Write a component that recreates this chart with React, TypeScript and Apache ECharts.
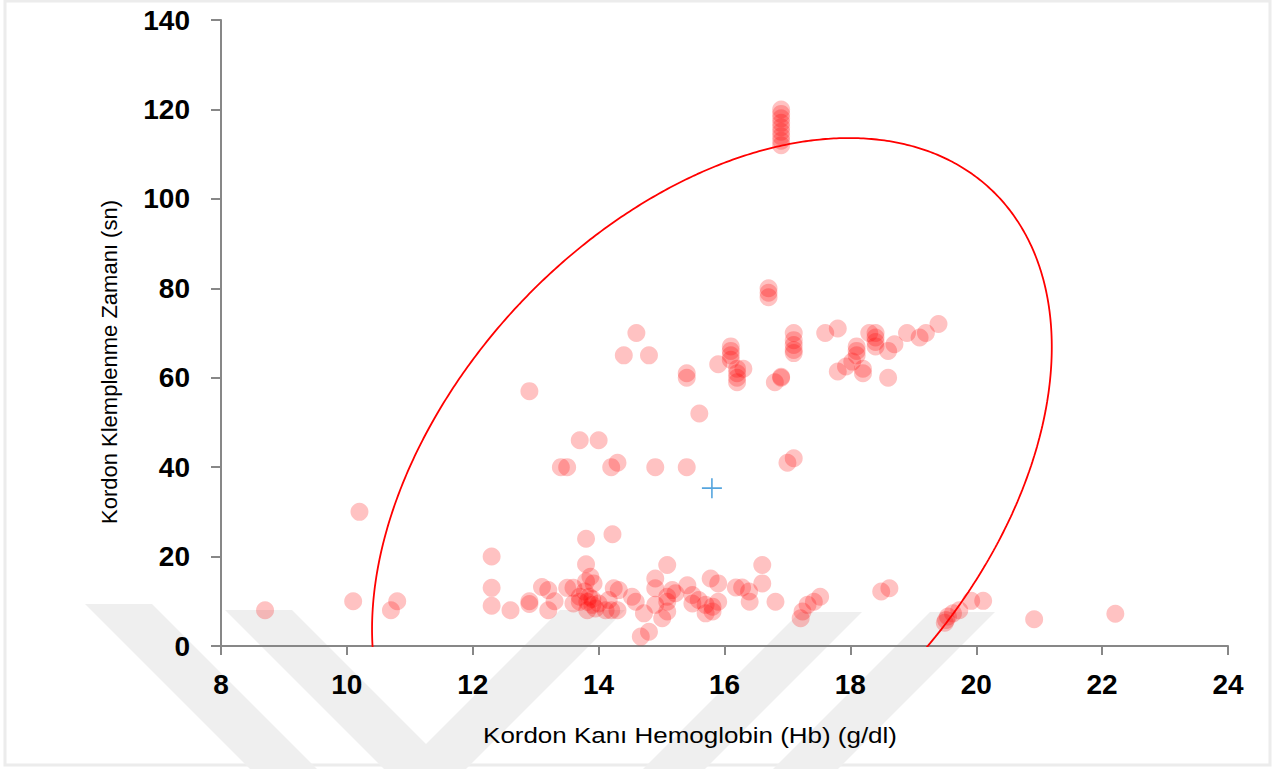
import React, { useEffect, useRef } from "react";
import * as echarts from "echarts";

// Kordon Kanı Hemoglobin (g/dl) values
const hemoglobin: number[] = [
  8.7, 10.1, 10.2, 10.7, 10.8, 12.3, 12.3, 12.3, 12.6, 12.9,
  12.9, 12.9, 13.1, 13.2, 13.2, 13.3, 13.4, 13.5, 13.5, 13.6,
  13.6, 13.7, 13.7, 13.7, 13.8, 13.8, 13.87, 13.8, 13.92, 13.82,
  13.9, 13.95, 13.82, 13.85, 13.9, 14.0, 13.78, 14.0, 14.11, 14.2,
  14.16, 14.24, 14.32, 14.3, 14.2, 14.3, 14.22, 14.4, 14.53, 14.59,
  14.6, 14.67, 14.72, 14.8, 14.8, 14.9, 14.9, 14.9, 14.9, 15.01,
  15.09, 15.09, 15.09, 15.09, 15.17, 15.22, 15.41, 15.4, 15.4, 15.4,
  15.49, 15.49, 15.59, 15.6, 15.7, 15.7, 15.78, 15.81, 15.81, 15.9,
  15.9, 15.9, 16.1, 16.1, 16.1, 16.1, 16.18, 16.2, 16.2, 16.2,
  16.2, 16.28, 16.3, 16.39, 16.4, 16.6, 16.6, 16.7, 16.7, 16.7,
  16.81, 16.8, 16.9, 16.9, 16.9, 16.9, 16.9, 16.9, 16.9, 16.9,
  16.9, 16.9, 16.9, 17.0, 17.1, 17.1, 17.1, 17.1, 17.1, 17.1,
  17.21, 17.24, 17.32, 17.42, 17.52, 17.6, 17.8, 17.8, 17.93, 18.03,
  18.1, 18.1, 18.1, 18.2, 18.2, 18.3, 18.4, 18.4, 18.4, 18.4,
  18.49, 18.62, 18.6, 18.6, 18.7, 18.9, 19.1, 19.2, 19.4, 19.5,
  19.52, 19.55, 19.63, 19.73, 19.92, 20.11, 20.92, 22.21,
];

// Kordon Klemplenme Zamanı (sn) values
const clampTime: number[] = [
  8, 10, 30, 8, 10, 20, 13, 9, 8, 10,
  9.4, 57, 13.2, 12.5, 8, 10, 40, 40, 13, 13,
  9.5, 11, 9.9, 46, 24, 18.3, 15.5, 14.4, 14, 9.9,
  9.2, 8.4, 8, 11, 10.5, 9.5, 12.2, 46, 8, 8,
  10.3, 12.9, 12.5, 8, 40, 41, 25, 65, 11, 9.9,
  70, 2.1, 7.3, 3.2, 65, 15.1, 12.9, 9.2, 40, 6.2,
  18.1, 11, 9.9, 7.7, 12.5, 11.8, 13.6, 61, 60, 40,
  11.4, 9.5, 10.3, 52, 9.2, 7.3, 15.1, 8.8, 7.7, 14,
  9.9, 63, 67, 66, 65, 64, 13.1, 62, 61, 60,
  59, 13.1, 62, 12.2, 9.9, 18.1, 14, 80, 79, 78,
  9.9, 59, 60, 60.2, 112, 113, 114, 115, 116, 117,
  118, 119, 120, 41, 42, 70, 68.4, 67.3, 66.2, 65.5,
  6.2, 7.7, 9.2, 9.9, 11, 70, 71, 61.4, 62.5, 63.6,
  67, 66, 65, 62, 61, 70, 70, 69, 68, 67,
  12.2, 12.9, 66, 60, 67.5, 70, 69, 70, 72, 5.2,
  5.8, 6.6, 7.3, 8, 10.1, 10.1, 6, 7.2,
];

// Centroid (blue cross) and confidence ellipse parameters
const centroid: number[] = [15.8, 35.3];
const ellipseSpread: number[] = [5.4, 78.3]; // sd-scale along x and y
const ellipseCorrelation = 0.403;

const xTicks = { min: 8, max: 24, interval: 2 };
const yTicks = { min: 0, max: 140, interval: 20 };

const xTitle = "Kordon Kanı Hemoglobin (Hb) (g/dl)";
const yTitle = "Kordon Klemplenme Zamanı (sn)";

export default function App() {
  const ref = useRef<HTMLDivElement>(null);

  useEffect(() => {
    if (!ref.current) return;
    const chart = echarts.init(ref.current, undefined, { renderer: "svg" });

    const points = hemoglobin.map((x, i) => [x, clampTime[i]]);

    const ellipse: number[][] = [];
    const n = 720;
    const k = Math.sqrt(1 - ellipseCorrelation * ellipseCorrelation);
    for (let i = 0; i <= n; i++) {
      const t = (i / n) * Math.PI * 2;
      ellipse.push([
        centroid[0] + ellipseSpread[0] * Math.cos(t),
        centroid[1] + ellipseSpread[1] * (ellipseCorrelation * Math.cos(t) + k * Math.sin(t)),
      ]);
    }

    const axisColor = "#878787";
    const labelStyle = {
      color: "#000",
      fontSize: 28,
      fontWeight: "bold" as const,
      fontFamily: "Liberation Sans, Arial, sans-serif",
    };

    const band = "#efefef";
    const poly = (pts: number[][]) => ({
      type: "polygon",
      z: -10,
      silent: true,
      shape: { points: pts },
      style: { fill: band },
    });

    chart.setOption({
      animation: false,
      backgroundColor: "#ffffff",
      grid: { left: 221, right: 59, top: 20, bottom: 123, containLabel: false },
      xAxis: {
        type: "value",
        min: xTicks.min,
        max: xTicks.max,
        interval: xTicks.interval,
        axisLine: { show: true, lineStyle: { color: axisColor, width: 2 } },
        axisTick: { show: true, length: 9, lineStyle: { color: axisColor, width: 2 } },
        splitLine: { show: false },
        axisLabel: { ...labelStyle, margin: 24 },
      },
      yAxis: {
        type: "value",
        min: yTicks.min,
        max: yTicks.max,
        interval: yTicks.interval,
        axisLine: { show: true, lineStyle: { color: axisColor, width: 2 } },
        axisTick: { show: true, length: 10, lineStyle: { color: axisColor, width: 2 } },
        splitLine: { show: false },
        axisLabel: { ...labelStyle, margin: 31 },
      },
      graphic: [
        {
          type: "rect",
          z: -20,
          silent: true,
          shape: { x: 5, y: 1, width: 1265, height: 764 },
          style: { fill: "#ffffff", stroke: "#ececec", lineWidth: 3 },
        },
        poly([[85, 604], [152, 604], [317, 769], [250, 769]]),
        poly([[225, 610], [292, 610], [451, 769], [384, 769]]),
        poly([[560, 610], [625, 610], [466, 769], [401, 769]]),
        poly([[800, 612], [862, 612], [705, 769], [643, 769]]),
        poly([[930, 612], [995, 612], [838, 769], [773, 769]]),
        {
          type: "text",
          silent: true,
          x: 690,
          y: 735,
          scaleX: 1.18,
          style: {
            text: xTitle,
            fill: "#000",
            font: "22px Liberation Sans, Arial, sans-serif",
            textAlign: "center",
            textVerticalAlign: "middle",
          },
        },
        {
          type: "text",
          silent: true,
          x: 109,
          y: 362,
          rotation: Math.PI / 2,
          style: {
            text: yTitle,
            fill: "#000",
            font: "22px Liberation Sans, Arial, sans-serif",
            textAlign: "center",
            textVerticalAlign: "middle",
          },
        },
      ],
      series: [
        {
          type: "scatter",
          data: points,
          symbol: "circle",
          symbolSize: 18,
          itemStyle: { color: "rgba(255,0,0,0.3)" },
          z: 3,
        },
        {
          type: "line",
          data: ellipse,
          showSymbol: false,
          smooth: false,
          clip: true,
          lineStyle: { color: "#ff0000", width: 1.8 },
          z: 4,
        },
        {
          type: "scatter",
          data: [centroid],
          symbol: "path://M0,9.2h20v1.6h-20z M9.2,0h1.6v20h-1.6z",
          symbolSize: 20,
          itemStyle: { color: "#2a8fd6" },
          z: 5,
        },
      ],
    });

    return () => chart.dispose();
  }, []);

  return (
    <div
      ref={ref}
      style={{ position: "fixed", left: 0, top: 0, width: 1287, height: 769 }}
    />
  );
}
